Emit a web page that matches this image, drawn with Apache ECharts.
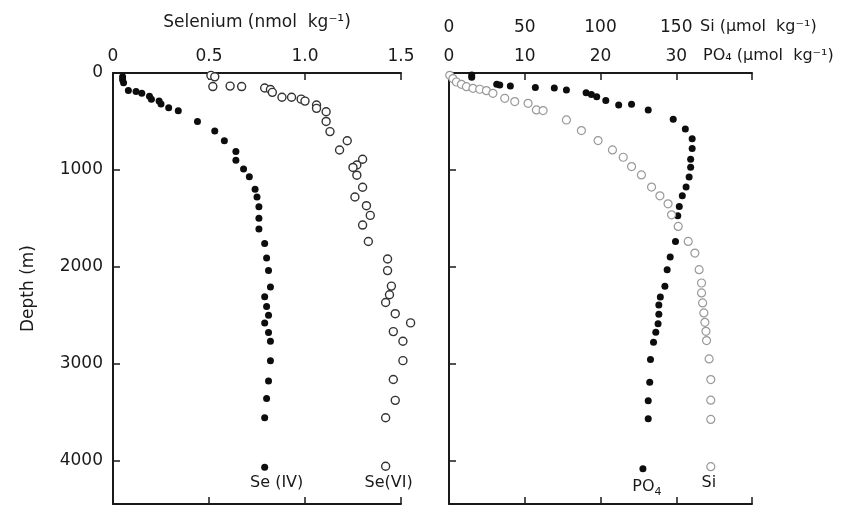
<!DOCTYPE html>
<html>
<head>
<meta charset="utf-8">
<script src="https://cdn.jsdelivr.net/npm/echarts@6/dist/echarts.min.js"></script>
<style>
  html, body { margin: 0; padding: 0; background: #fff; }
  #chart { width: 843px; height: 509px; }
</style>
</head>
<body>
<div id="chart"></div>
<script>
// Se(IV), nmol/kg vs depth (m)
const seIVDepth = [40, 70, 100, 180, 190, 210, 240, 270, 290, 320, 360, 390, 500, 600, 700, 810, 900, 990, 1070, 1200, 1280, 1380, 1500, 1610, 1760, 1910, 2040, 2210, 2310, 2410, 2500, 2580, 2680, 2770, 2970, 3180, 3360, 3560, 4070]
const seIV = [0.05, 0.05, 0.055, 0.08, 0.12, 0.15, 0.19, 0.2, 0.24, 0.25, 0.29, 0.34, 0.44, 0.53, 0.58, 0.64, 0.64, 0.68, 0.71, 0.74, 0.75, 0.76, 0.76, 0.76, 0.79, 0.8, 0.81, 0.82, 0.79, 0.8, 0.81, 0.79, 0.81, 0.82, 0.82, 0.81, 0.8, 0.79, 0.79]

// Se(VI)
const seVIDepth = [25, 40, 140, 135, 140, 155, 170, 200, 250, 250, 270, 290, 330, 365, 400, 500, 605, 700, 795, 890, 950, 975, 1055, 1180, 1280, 1370, 1470, 1570, 1740, 1920, 2040, 2200, 2290, 2370, 2485, 2580, 2670, 2770, 2970, 3165, 3380, 3560, 4060]
const seVI = [0.51, 0.53, 0.52, 0.61, 0.67, 0.79, 0.82, 0.83, 0.88, 0.93, 0.98, 1.0, 1.06, 1.06, 1.11, 1.11, 1.13, 1.22, 1.18, 1.3, 1.27, 1.25, 1.27, 1.3, 1.26, 1.32, 1.34, 1.3, 1.33, 1.43, 1.43, 1.45, 1.44, 1.42, 1.47, 1.55, 1.46, 1.51, 1.51, 1.46, 1.47, 1.42, 1.42]

// PO4, umol/kg
const po4Depth = [20, 45, 117, 124, 134, 151, 155, 175, 203, 223, 244, 285, 330, 323, 381, 478, 577, 680, 780, 890, 972, 1075, 1178, 1268, 1378, 1474, 1591, 1739, 1900, 2031, 2203, 2312, 2395, 2491, 2588, 2677, 2780, 2959, 3193, 3385, 3571, 4086]
const po4 = [3.0, 3.0, 6.3, 6.7, 8.1, 11.4, 13.9, 15.5, 18.1, 18.8, 19.5, 20.7, 22.4, 24.1, 26.3, 29.6, 31.2, 32.1, 32.1, 31.9, 31.9, 31.7, 31.3, 30.8, 30.4, 30.2, 30.2, 29.9, 29.2, 28.8, 28.5, 27.9, 27.7, 27.7, 27.6, 27.3, 27.0, 26.6, 26.5, 26.3, 26.3, 25.6]

// Si, umol/kg
const siDepth = [24, 58, 93, 117, 141, 158, 168, 182, 210, 261, 295, 313, 381, 388, 485, 594, 698, 794, 870, 966, 1052, 1178, 1268, 1351, 1464, 1584, 1739, 1859, 2031, 2168, 2271, 2374, 2477, 2574, 2667, 2763, 2952, 3165, 3378, 3577, 4065]
const si = [0.5, 2.6, 4.9, 8.2, 11.5, 15.8, 20.3, 24.7, 29, 36.8, 43.4, 52.2, 57.7, 62.1, 77.5, 87.4, 98.4, 107.9, 115, 120.5, 127, 133.7, 139.2, 144.6, 146.9, 151.3, 157.9, 162.3, 165.1, 166.7, 166.7, 167.4, 168.2, 168.9, 169.6, 170, 171.7, 172.8, 172.8, 172.8, 172.8]

// tick labels
const seTicks = { 0: '0', 0.5: '0.5', 1: '1.0', 1.5: '1.5' }
const po4Ticks = ['0', '10', '20', '30']
const siTicks = ['0', '50', '100', '150']
const depthTicks = ['0', '1000', '2000', '3000', '4000']

const FONT = 'DejaVu Sans'
const INK = '#1a1a1a'

// pair values with depth, last point carries the series name
const pairs = (vals, depths, name, offset) =>
  vals.map((v, i) => {
    const item = { value: [v, depths[i]] }
    if (i === vals.length - 1) {
      item.label = {
        show: true,
        position: 'bottom',
        distance: 4,
        offset: offset,
        formatter: name,
        color: INK,
        opacity: 1,
        fontFamily: FONT,
        fontSize: 16,
        rich: { sub: { fontSize: 11, fontFamily: FONT, color: INK, padding: [10, 0, 0, 0] } },
      }
    }
    return item
  })

const axisLine = { show: true, lineStyle: { color: INK, width: 2 } }
const tickIn = { show: true, inside: true, length: 7, lineStyle: { color: INK, width: 1.5 } }

const chart = echarts.init(document.getElementById('chart'))
chart.setOption({
  animation: false,
  backgroundColor: '#fff',
  textStyle: { fontFamily: FONT },
  grid: [
    { left: 113, top: 73, width: 288, height: 431 },
    { left: 449, top: 73, width: 303, height: 431 },
  ],
  xAxis: [
    {
      gridIndex: 0, type: 'value', position: 'top', min: 0, max: 1.5, interval: 0.5,
      axisLine, axisTick: tickIn, splitLine: { show: false },
      axisLabel: { color: INK, fontSize: 17, margin: 8, formatter: (v) => seTicks[v] },
      name: 'Selenium (nmol  kg⁻¹)', nameLocation: 'middle', nameGap: 42,
      nameTextStyle: { color: INK, fontSize: 17, fontFamily: FONT },
    },
    {
      gridIndex: 0, type: 'value', position: 'bottom', min: 0, max: 1.5, interval: 0.5,
      axisLine, axisTick: tickIn, splitLine: { show: false }, axisLabel: { show: false },
    },
    {
      gridIndex: 1, type: 'value', position: 'top', min: 0, max: 40, interval: 10,
      axisLine, axisTick: tickIn, splitLine: { show: false },
      axisLabel: { color: INK, fontSize: 17, margin: 8, formatter: (v) => po4Ticks[v / 10] || '' },
    },
    {
      gridIndex: 1, type: 'value', position: 'top', offset: 29, min: 0, max: 200, interval: 50,
      axisLine: { show: false }, axisTick: { show: false }, splitLine: { show: false },
      axisLabel: { color: INK, fontSize: 17, margin: 8, formatter: (v) => siTicks[v / 50] || '' },
    },
    {
      gridIndex: 1, type: 'value', position: 'bottom', min: 0, max: 40, interval: 10,
      axisLine, axisTick: tickIn, splitLine: { show: false }, axisLabel: { show: false },
    },
  ],
  yAxis: [
    {
      gridIndex: 0, type: 'value', inverse: true, min: 0, max: 4450, interval: 1000,
      axisLine, axisTick: tickIn, splitLine: { show: false },
      axisLabel: { color: INK, fontSize: 17, margin: 10, formatter: (v) => depthTicks[v / 1000] },
      name: 'Depth (m)', nameLocation: 'middle', nameRotate: 90, nameGap: 76,
      nameTextStyle: { color: INK, fontSize: 17, fontFamily: FONT },
    },
    {
      gridIndex: 1, type: 'value', inverse: true, min: 0, max: 4450, interval: 1000,
      axisLine, axisTick: tickIn, splitLine: { show: false }, axisLabel: { show: false },
    },
  ],
  graphic: [
    { type: 'text', left: 700, top: 19, style: { text: 'Si (µmol  kg⁻¹)', fill: INK, font: '16px "DejaVu Sans"' } },
    { type: 'text', left: 703, top: 48, style: { text: 'PO₄ (µmol  kg⁻¹)', fill: INK, font: '16px "DejaVu Sans"' } },
  ],
  series: [
    {
      name: 'Se(IV)', type: 'scatter', xAxisIndex: 0, yAxisIndex: 0, clip: false,
      symbolSize: 7, itemStyle: { color: '#0d0d0d', opacity: 1 },
      data: pairs(seIV, seIVDepth, 'Se (IV)', [12, 0]),
    },
    {
      name: 'Se(VI)', type: 'scatter', xAxisIndex: 0, yAxisIndex: 0, clip: false,
      symbolSize: 8, itemStyle: { color: '#fff', borderColor: '#333', borderWidth: 1.4, opacity: 1 },
      data: pairs(seVI, seVIDepth, 'Se(VI)', [3, 0]),
    },
    {
      name: 'PO4', type: 'scatter', xAxisIndex: 2, yAxisIndex: 1, clip: false,
      symbolSize: 7, itemStyle: { color: '#0d0d0d', opacity: 1 },
      data: pairs(po4, po4Depth, 'PO{sub|4}', [4, 0]),
    },
    {
      name: 'Si', type: 'scatter', xAxisIndex: 3, yAxisIndex: 1, clip: false,
      symbolSize: 8, itemStyle: { color: '#fff', borderColor: '#999', borderWidth: 1.2, opacity: 1 },
      data: pairs(si, siDepth, 'Si', [-2, 0]),
    },
  ],
})
</script>
</body>
</html>
